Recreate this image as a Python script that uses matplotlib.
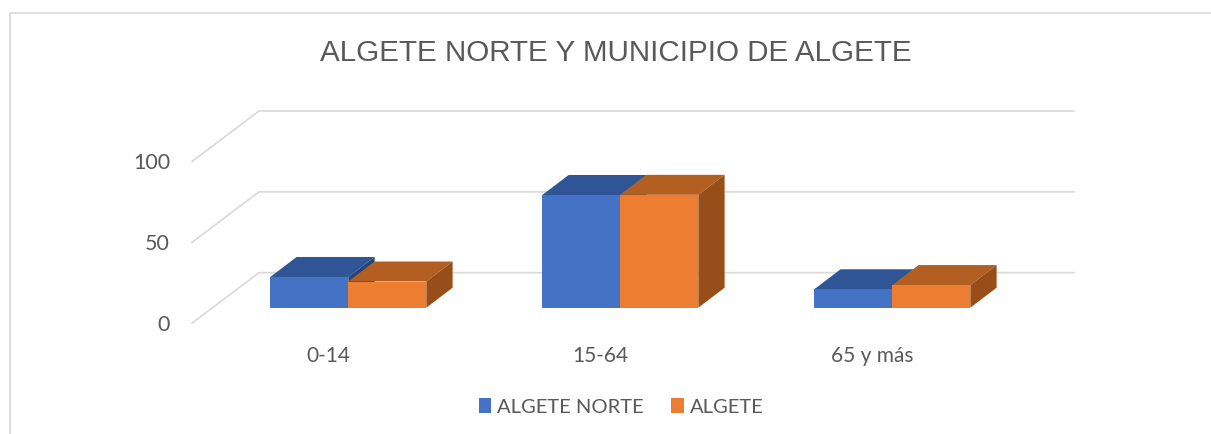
import matplotlib
matplotlib.use("Agg")
import matplotlib.pyplot as plt
from matplotlib.patches import Polygon

categories = ['0-14', '15-64', '65 y más']
series_names = ['ALGETE NORTE', 'ALGETE']
algete_norte = [19, 69.7, 11.4]
algete = [16.2, 69.8, 14]
y_ticks = [0, 50, 100]

W, H = 1211, 434
PX_X = 272.0     # pixeles por categoria
PX_Y = 1.617     # pixeles por unidad
BAR_W = 78 / PX_X
DX, DY = 26.3 / PX_X, 20 / PX_Y          # fondo de las barras
WALL_X0, WALL_X1 = -89.3 / PX_X, 725.7 / PX_X
WALL_DY = 35 / PX_Y
FRONT_X0, FRONT_DY = -156.3 / PX_X, -15.5 / PX_Y

fig = plt.figure(figsize=(W / 100, H / 100), dpi=100)
ax = fig.add_axes([0, 0, 1, 1])
ax.set_xlim(-348.3 / PX_X, (W - 348.3) / PX_X)
ax.set_ylim(-(H - 307.7) / PX_Y, 307.7 / PX_Y)
ax.axis('off')

grey = '#595959'
grid = '#D9D9D9'

# marco
fig.add_artist(plt.Line2D([10 / W, 10 / W, 1], [0, 1 - 13 / H, 1 - 13 / H], color=grid, lw=1.2))

# rejilla
for t in y_ticks:
    ax.plot([FRONT_X0, WALL_X0, WALL_X1],
            [t + FRONT_DY, t + WALL_DY, t + WALL_DY], color=grid, lw=1.2, zorder=1)
    ax.text(FRONT_X0 - 22 / PX_X, t + FRONT_DY - 1.5 / PX_Y, str(t), ha='right', va='center',
            color=grey, fontsize=15.5, family='Lato')


def draw_bars(offset, values, front, top, side, label, z):
    for i, v in enumerate(values):
        x0 = i + offset
        x1 = x0 + BAR_W
        ax.add_patch(Polygon([(x0, v), (x1, v), (x1 + DX, v + DY), (x0 + DX, v + DY)],
                             facecolor=top, edgecolor='none', zorder=z))
        ax.add_patch(Polygon([(x1, 0), (x1 + DX, DY), (x1 + DX, v + DY), (x1, v)],
                             facecolor=side, edgecolor='none', zorder=z))
    ax.bar([i + offset for i in range(len(values))], values, width=BAR_W, align='edge',
           color=front, label=label, zorder=z + 0.5)


draw_bars(-BAR_W, algete_norte, '#4472C4', '#2F5597', '#264478', series_names[0], 2)
draw_bars(0, algete, '#ED7D31', '#B25F21', '#974E18', series_names[1], 3)

for i, c in enumerate(categories):
    ax.text(i - 20 / PX_X, -48.5 / PX_Y, c, ha='center', va='center', color=grey,
            fontsize=15, family='Lato')

fig.text(616 / W, 1 - 53 / H, 'ALGETE NORTE Y MUNICIPIO DE ALGETE', ha='center', va='center',
         color=grey, fontsize=21.35, family='Liberation Sans')

leg = ax.legend(loc='center', bbox_to_anchor=(621 / W, 1 - 407 / H), bbox_transform=fig.transFigure,
                ncol=2, frameon=False, handlelength=0.62, handleheight=0.72,
                handletextpad=0.3, columnspacing=1.35, labelcolor=grey,
                prop={'family': 'Lato', 'size': 14.5})

fig.savefig('out.png', dpi=100)
